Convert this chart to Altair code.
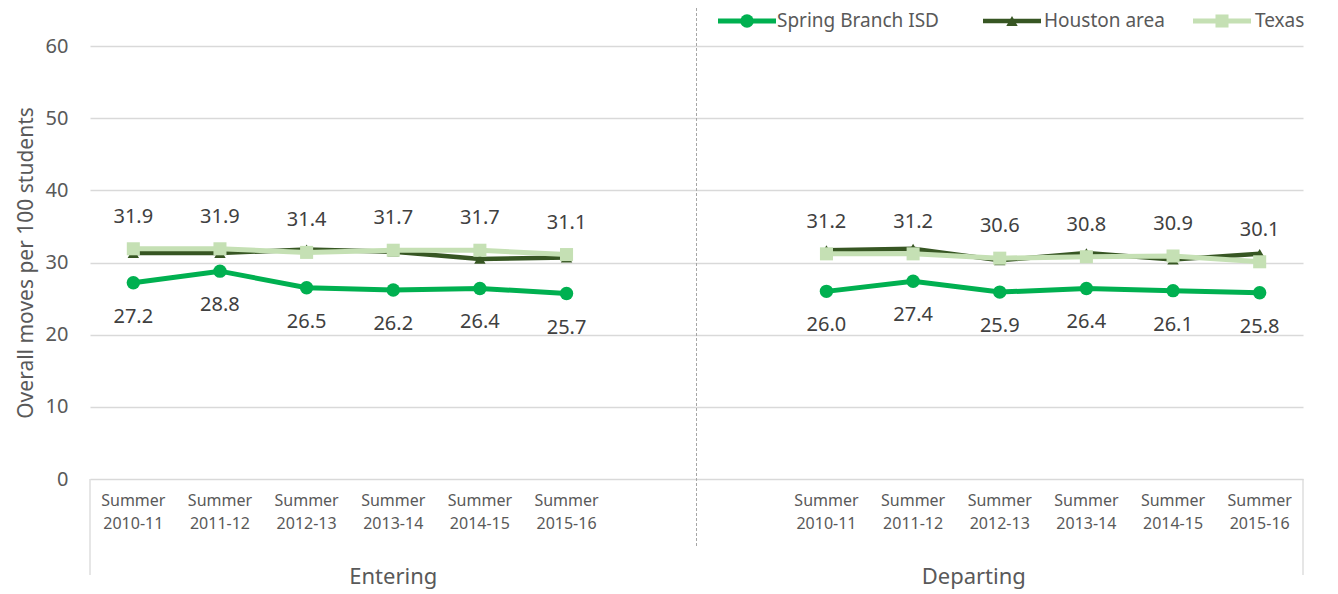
import altair as alt
import pandas as pd

# ---------------- data ----------------
periods = ["Summer 2010-11", "Summer 2011-12", "Summer 2012-13",
           "Summer 2013-14", "Summer 2014-15", "Summer 2015-16"]
groups = ["Entering", "Departing"]
series = ["Spring Branch ISD", "Houston area", "Texas"]

spring_entering = [27.2, 28.8, 26.5, 26.2, 26.4, 25.7]
spring_departing = [26.0, 27.4, 25.9, 26.4, 26.1, 25.8]
houston_entering = [31.3, 31.3, 31.8, 31.5, 30.5, 30.7]
houston_departing = [31.7, 31.9, 30.3, 31.3, 30.4, 31.2]
texas_entering = [31.9, 31.9, 31.4, 31.7, 31.7, 31.1]
texas_departing = [31.2, 31.2, 30.6, 30.8, 30.9, 30.1]

values = {
    ("Spring Branch ISD", "Entering"): spring_entering,
    ("Spring Branch ISD", "Departing"): spring_departing,
    ("Houston area", "Entering"): houston_entering,
    ("Houston area", "Departing"): houston_departing,
    ("Texas", "Entering"): texas_entering,
    ("Texas", "Departing"): texas_departing,
}

# category slots: 7 per group, blank at end of Entering and start of Departing
group_start = {"Entering": 0, "Departing": 8}
N_SLOTS = 14

rows = []
for s in series:
    for g in groups:
        for i, p in enumerate(periods):
            rows.append({"series": s, "group": g, "period": p,
                         "pos": group_start[g] + i + 0.5,
                         "value": values[(s, g)][i]})
df = pd.DataFrame(rows)

cat_rows = []
for g in groups:
    for i, p in enumerate(periods):
        cat_rows.append({"pos": group_start[g] + i + 0.5,
                         "label": p.replace(" ", "\n")})
cat_df = pd.DataFrame(cat_rows)

group_label_pos = [3.5, 10.2]
grp_df = pd.DataFrame({"group": groups, "pos": group_label_pos})

colors = {"Spring Branch ISD": "#00B050", "Houston area": "#375623", "Texas": "#C5E0B4"}
shapes = {"Spring Branch ISD": "circle", "Houston area": "triangle-up", "Texas": "square"}
sizes = {"Spring Branch ISD": 180, "Houston area": 130, "Texas": 170}
widths = {"Spring Branch ISD": 5, "Houston area": 4.5, "Texas": 5}

W, H = 1213, 433
FONT = "Noto Sans"
TXT = "#595959"

X = alt.X("pos:Q", scale=alt.Scale(domain=[0, N_SLOTS], nice=False, zero=False), axis=None)
Y = alt.Y("value:Q", scale=alt.Scale(domain=[0, 60], nice=False),
          axis=alt.Axis(values=list(range(0, 61, 10)), title="Overall moves per 100 students",
                        grid=True, gridColor="#d9d9d9", gridWidth=1.3, domain=False,
                        ticks=False, tickSize=0, labelPadding=22, labelFontSize=20,
                        labelColor=TXT, labelFont=FONT, titleFont=FONT, titleFontSize=21,
                        titleFontWeight="normal", titleColor=TXT, titlePadding=9))

layers = []

# frame lines (pixel layout)
frame_df = pd.DataFrame({
    "px": [0, W], "py": [H, H], "py2": [H + 96, H + 96]})
layers.append(alt.Chart(frame_df).mark_rule(color="#d9d9d9", strokeWidth=1.3).encode(
    x=alt.X("px:Q", scale=None), y=alt.Y("py:Q", scale=None), y2="py2:Q"))
div_df = pd.DataFrame({"pos": [7.0], "py": [-38], "py2": [H + 69]})
layers.append(alt.Chart(div_df).mark_rule(color="#a6a6a6", strokeWidth=1, strokeDash=[3, 2]).encode(
    x=X, y=alt.Y("py:Q", scale=None), y2="py2:Q"))

# series
for s in series:
    base = alt.Chart(df[df.series == s].reset_index(drop=True))
    layers.append(base.mark_line(color=colors[s], strokeWidth=widths[s]).encode(
        x=X, y=Y, detail="group:N"))
    layers.append(base.mark_point(shape=shapes[s], filled=True, opacity=1, size=sizes[s],
                                  color=colors[s]).encode(x=X, y=Y))

# data labels
layers.append(alt.Chart(df[df.series == "Texas"].reset_index(drop=True)).mark_text(
    dy=-32, fontSize=20, font=FONT, color="#404040").encode(
    x=X, y=Y, text=alt.Text("value:Q", format=".1f")))
layers.append(alt.Chart(df[df.series == "Spring Branch ISD"].reset_index(drop=True)).mark_text(
    dy=34, fontSize=20, font=FONT, color="#404040").encode(
    x=X, y=Y, text=alt.Text("value:Q", format=".1f")))

# category labels
cat_df["py"] = H + 14
layers.append(alt.Chart(cat_df).mark_text(
    lineBreak="\n", baseline="top", fontSize=16, lineHeight=23, font=FONT, color=TXT).encode(
    x=X, y=alt.Y("py:Q", scale=None), text="label:N"))
grp_df["py"] = H + 98
layers.append(alt.Chart(grp_df).mark_text(
    baseline="middle", fontSize=22, font=FONT, color=TXT).encode(
    x=X, y=alt.Y("py:Q", scale=None), text="group:N"))

# legend (manual, Excel-style line + marker)
LY = -25
leg_df = pd.DataFrame({
    "series": series,
    "x0": [628, 893, 1103],
    "tx": [687, 954, 1165],
})
leg_df["x1"] = leg_df["x0"] + 58
leg_df["xm"] = leg_df["x0"] + 29
leg_df["ly"] = LY
for s in series:
    ld = leg_df[leg_df.series == s].reset_index(drop=True)
    lb = alt.Chart(ld)
    layers.append(lb.mark_rule(color=colors[s], strokeWidth=widths[s]).encode(
        x=alt.X("x0:Q", scale=None), x2="x1:Q", y=alt.Y("ly:Q", scale=None)))
    layers.append(lb.mark_point(shape=shapes[s], filled=True, opacity=1,
                                size=sizes[s], color=colors[s]).encode(
        x=alt.X("xm:Q", scale=None), y=alt.Y("ly:Q", scale=None)))
layers.append(alt.Chart(leg_df).mark_text(align="left", baseline="middle", fontSize=19,
                                          font=FONT, color=TXT).encode(
    x=alt.X("tx:Q", scale=None), y=alt.Y("ly:Q", scale=None), text="series:N"))

chart = alt.layer(*layers).properties(
    width=W, height=H,
    autosize=alt.AutoSizeParams(type="none"),
    padding={"left": 82, "top": 38, "right": 27, "bottom": 115},
).configure_view(stroke=None)

chart.save("out.html", embed_options={"renderer": "svg", "actions": False})
